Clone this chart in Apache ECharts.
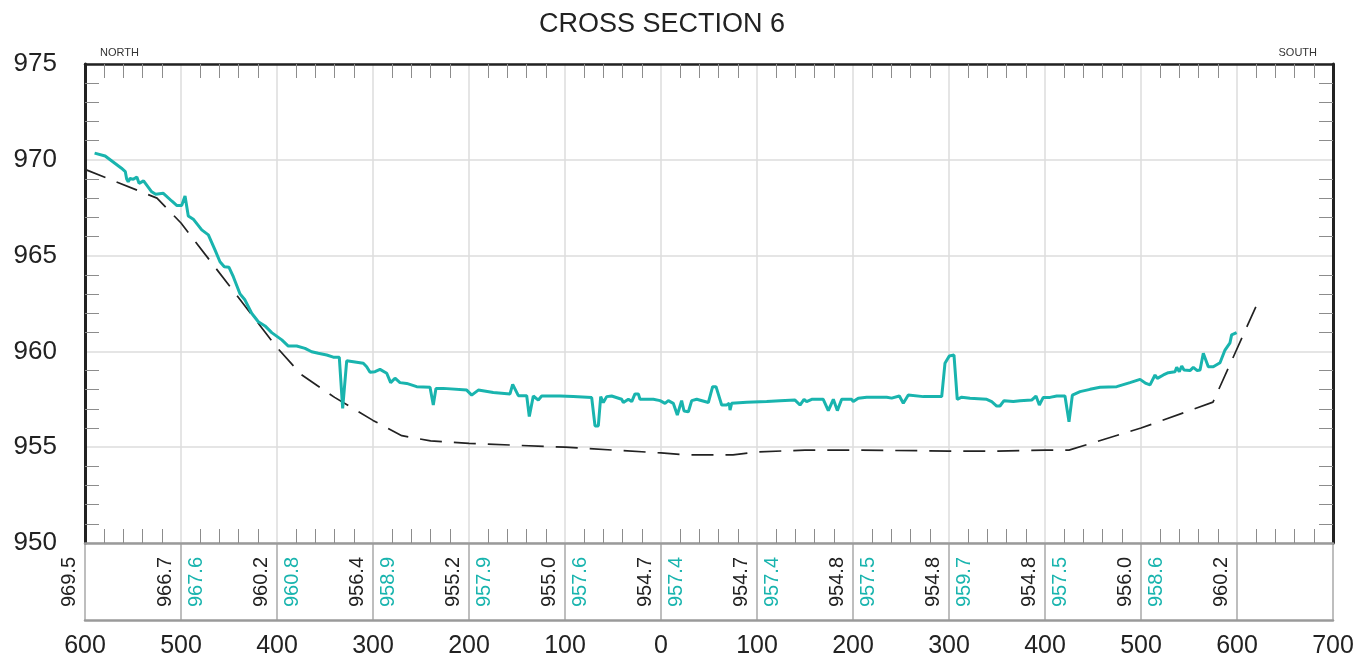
<!DOCTYPE html>
<html>
<head>
<meta charset="utf-8">
<style>
html,body{margin:0;padding:0;background:#fff;}
#chart{width:1372px;height:667px;}
</style>
<script src="https://cdn.jsdelivr.net/npm/echarts@6/dist/echarts.min.js"></script>
</head>
<body>
<div id="chart"></div>
<script>
// ---- data ----
var titleText = 'CROSS SECTION 6';
var leftSideLabel = 'NORTH';
var rightSideLabel = 'SOUTH';

// Stations (feet from centreline; labels shown as absolute values)
var stations = [-600, -500, -400, -300, -200, -100, 0, 100, 200, 300, 400, 500, 600];
// Elevations printed in the strip (black = dashed profile, cyan = surveyed profile)
var dashedLabels = [969.5, 966.7, 960.2, 956.4, 955.2, 955.0, 954.7, 954.7, 954.8, 954.8, 954.8, 956.0, 960.2];
var surveyLabels = [null, 967.6, 960.8, 958.9, 957.9, 957.6, 957.4, 957.4, 957.5, 959.7, 957.5, 958.6, null];

// Dashed profile vertices [station, elevation]
var dashedProfile = [
  [-600,969.5],[-525,968.0],[-500,966.7],[-450,963.45],[-400,960.2],[-375,958.8],[-340,957.6],
  [-300,956.4],[-270,955.6],[-240,955.33],[-200,955.2],[-100,955.0],[0,954.7],[25,954.6],
  [75,954.6],[100,954.75],[150,954.85],[200,954.85],[300,954.8],[350,954.8],[400,954.85],
  [425,954.85],[500,956.0],[575,957.35],[623,962.7]
];

// Surveyed profile points [station, elevation]
var surveyProfile = [
  [-590,970.35],[-579,970.2],[-562,969.56],[-558,969.38],[-556.6,969.0],[-555,968.86],[-553,969.03],
  [-549.7,968.98],[-546,969.1],[-543.7,968.77],[-539,968.9],[-530.5,968.33],[-526.4,968.2],[-518.4,968.25],
  [-509.7,967.85],[-504.5,967.62],[-499.3,967.62],[-495.8,968.11],[-492.4,967.07],[-487.2,966.9],
  [-478.4,966.34],[-471.5,966.08],[-464.6,965.3],[-459.4,964.68],[-454.9,964.42],[-450,964.39],
  [-445.5,963.9],[-438.5,963.0],[-433.3,962.68],[-426.4,961.99],[-419.5,961.55],[-412.5,961.33],
  [-405.5,960.98],[-395,960.6],[-388.2,960.28],[-379.5,960.28],[-370.8,960.16],[-363.9,959.98],
  [-357,959.9],[-348.2,959.81],[-341.4,959.7],[-335.1,959.69],[-331.6,957.03],[-327.4,959.51],
  [-320.5,959.46],[-310.1,959.38],[-306.6,959.2],[-303.1,958.91],[-297.9,958.94],[-292.7,959.06],
  [-285.7,958.86],[-281.6,958.37],[-277.1,958.6],[-271.9,958.37],[-264.9,958.33],[-254.5,958.16],
  [-240.6,958.13],[-237.2,957.2],[-234.4,958.07],[-226.8,958.07],[-202.4,957.98],[-197.2,957.72],
  [-190.3,957.98],[-174.7,957.85],[-157.3,957.78],[-154.5,958.28],[-148.6,957.69],[-139.9,957.69],
  [-137.2,956.6],[-133,957.67],[-127.8,957.46],[-124.3,957.67],[-105.2,957.67],[-91.4,957.64],
  [-72.2,957.59],[-68.75,956.11],[-65.3,956.11],[-62.8,957.64],[-60.1,957.33],[-56.6,957.64],
  [-51.4,957.67],[-41,957.5],[-39.2,957.33],[-34,957.5],[-30.5,957.38],[-27.1,957.78],[-23.6,957.78],
  [-21.9,957.5],[-8,957.5],[-1,957.43],[4.2,957.29],[7.6,957.43],[12.8,957.29],[17,956.68],
  [21.5,957.43],[24,956.89],[28.5,956.85],[32,957.43],[37.2,957.5],[49.3,957.33],[53.8,958.16],
  [57.3,958.16],[63.2,957.2],[68.4,957.2],[71.1,957.29],[71.9,956.94],[73.6,957.29],[89.3,957.34],
  [110.1,957.38],[124,957.43],[139.6,957.46],[144.8,957.2],[149,957.5],[151.7,957.38],[157,957.5],
  [169,957.5],[174.3,956.91],[179.5,957.5],[183.7,956.91],[188.2,957.5],[198.6,957.5],[200.3,957.38],
  [205.5,957.56],[214.3,957.61],[235.1,957.61],[240.3,957.56],[248.3,957.67],[252.4,957.29],
  [257.6,957.72],[273.3,957.64],[292.4,957.64],[295.8,959.38],[300.3,959.76],[305.2,959.81],
  [308.6,957.5],[313.2,957.61],[321.9,957.56],[339.3,957.5],[344.5,957.38],[349.7,957.15],
  [353.1,957.15],[357.3,957.43],[367,957.38],[374,957.43],[386.1,957.46],[390.6,957.67],[394.1,957.2],
  [398.2,957.6],[405.2,957.6],[412.2,957.67],[420.8,957.67],[425,956.33],[428.5,957.72],[436.5,957.9],
  [446.9,958.02],[457.3,958.13],[474.7,958.16],[488.5,958.37],[499,958.54],[500.7,958.59],
  [505.2,958.33],[509.4,958.25],[514.6,958.77],[517,958.59],[523.3,958.77],[528.5,958.89],
  [535.4,958.94],[537.2,959.17],[539.9,958.94],[542.4,959.24],[544.8,959.03],[551,959.0],
  [554.5,959.17],[558.6,959.0],[561.5,959.03],[564.9,959.9],[570.1,959.2],[575.3,959.2],
  [582.3,959.41],[587.5,960.07],[592.7,960.45],[594.4,960.86],[599.6,960.98]
];

// ---- chart ----
var FONT = '"Liberation Sans", Arial, sans-serif';
var CYAN = '#19b4ae';
var INK = '#222';

var stripData = stations.map(function (s) { return [s, 0]; });

var chart = echarts.init(document.getElementById('chart'), null, {renderer: 'canvas'});

var minorTickStyle = {show: true, splitNumber: 5, length: 14, lineStyle: {color: '#8c8c8c', width: 1}};

chart.setOption({
  animation: false,
  backgroundColor: '#fff',
  title: [
    {text: titleText, left: 539, top: 11, padding: 0,
     textStyle: {fontFamily: FONT, fontSize: 27, fontWeight: 'normal', color: INK}},
    {text: leftSideLabel, left: 100, top: 47, padding: 0,
     textStyle: {fontFamily: FONT, fontSize: 11, fontWeight: 'normal', color: '#333'}},
    {text: rightSideLabel, right: 55, top: 47, padding: 0,
     textStyle: {fontFamily: FONT, fontSize: 11, fontWeight: 'normal', color: '#333'}}
  ],
  grid: [
    {left: 85, right: 39, top: 64, bottom: 124, containLabel: false},
    {left: 85, right: 39, top: 543, bottom: 47, containLabel: false}
  ],
  xAxis: [
    {type: 'value', gridIndex: 0, position: 'bottom', min: -600, max: 700, interval: 100,
     axisLine: {show: true, onZero: false, lineStyle: {color: '#9a9a9a', width: 2.5}},
     axisTick: {show: false, inside: true},
     minorTick: minorTickStyle,
     axisLabel: {show: false},
     splitLine: {show: true, lineStyle: {color: '#dcdcdc', width: 1.5}}},
    {type: 'value', gridIndex: 0, position: 'top', min: -600, max: 700, interval: 100,
     axisLine: {show: true, onZero: false, lineStyle: {color: INK, width: 2.5}},
     axisTick: {show: false, inside: true},
     minorTick: minorTickStyle,
     axisLabel: {show: false},
     splitLine: {show: false}},
    {type: 'value', gridIndex: 1, position: 'bottom', min: -600, max: 700, interval: 100,
     axisLine: {show: true, onZero: false, lineStyle: {color: '#9a9a9a', width: 2.5}},
     axisTick: {show: false},
     axisLabel: {show: true, margin: 14, fontFamily: FONT, fontSize: 25, color: INK,
                 formatter: function (v) { return String(Math.abs(v)); }},
     splitLine: {show: true, lineStyle: {color: '#a8a8a8', width: 1.5}}}
  ],
  yAxis: [
    {type: 'value', gridIndex: 0, position: 'left', min: 950, max: 975, interval: 5,
     axisLine: {show: true, onZero: false, lineStyle: {color: INK, width: 3}},
     axisTick: {show: false, inside: true},
     minorTick: minorTickStyle,
     axisLabel: {show: true, margin: 28, fontFamily: FONT, fontSize: 26, color: INK},
     splitLine: {show: true, lineStyle: {color: '#dcdcdc', width: 1.5}}},
    {type: 'value', gridIndex: 0, position: 'right', min: 950, max: 975, interval: 5,
     axisLine: {show: true, onZero: false, lineStyle: {color: INK, width: 3}},
     axisTick: {show: false, inside: true},
     minorTick: minorTickStyle,
     axisLabel: {show: false},
     splitLine: {show: false}},
    {type: 'value', gridIndex: 1, min: 0, max: 1, show: false}
  ],
  series: [
    {type: 'line', name: 'dashed', xAxisIndex: 0, yAxisIndex: 0, data: dashedProfile,
     showSymbol: false, symbol: 'none', z: 3,
     lineStyle: {color: INK, width: 1.7, type: [22, 12]}},
    {type: 'line', name: 'survey', xAxisIndex: 0, yAxisIndex: 0, data: surveyProfile,
     showSymbol: false, symbol: 'none', z: 4,
     lineStyle: {color: CYAN, width: 3}},
    {type: 'custom', xAxisIndex: 2, yAxisIndex: 2, data: stripData, clip: false, z: 5,
     renderItem: function (params, api) {
       var i = params.dataIndex;
       var p = api.coord([api.value(0), api.value(1)]);
       var children = [];
       var font = '20px ' + FONT;
       if (dashedLabels[i] != null) {
         children.push({type: 'text', x: p[0] - 16, y: p[1] - 13, rotation: Math.PI / 2,
           style: {text: dashedLabels[i].toFixed(1), fill: INK, font: font, align: 'left', verticalAlign: 'middle'}});
       }
       if (surveyLabels[i] != null) {
         children.push({type: 'text', x: p[0] + 15, y: p[1] - 13, rotation: Math.PI / 2,
           style: {text: surveyLabels[i].toFixed(1), fill: CYAN, font: font, align: 'left', verticalAlign: 'middle'}});
       }
       return {type: 'group', children: children};
     }}
  ]
});
</script>
</body>
</html>
